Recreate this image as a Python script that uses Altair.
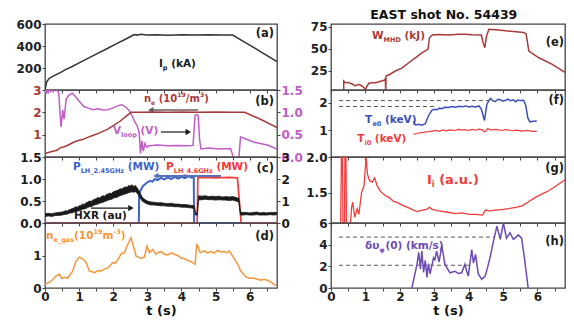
import altair as alt
import pandas as pd

FONT = "DejaVu Sans"
BLACK = "#1a1a1a"
DARKRED = "#a83a3a"
MAGENTA = "#c05cc6"
BLUE = "#3d63c9"
RED = "#f23b3b"
ORANGE = "#f5963a"
PURPLE = "#6c4bb3"
TEBLUE = "#3b4fb8"

# ---------------- data (t in s, value) ----------------
IP = [(0, 0), (0.05, 75), (0.12, 105), (0.2, 120), (0.3, 135), (0.45, 158), (0.6, 185), (0.8, 214),
      (1.0, 247), (1.2, 279), (1.5, 326), (1.8, 373), (2.1, 421), (2.4, 468), (2.55, 493), (2.62, 504),
      (2.7, 499), (2.8, 506), (3.0, 500), (3.3, 503), (3.6, 498), (4.0, 503), (4.4, 500), (4.8, 502),
      (5.2, 499), (5.5, 500), (5.8, 445), (6.1, 390), (6.4, 333), (6.8, 258)]

NE = [(0, 0.15), (0.2, 0.25), (0.35, 0.3), (0.45, 0.42), (0.55, 0.45), (0.7, 0.55), (0.85, 0.67),
      (1.0, 0.75), (1.1, 0.78), (1.25, 0.88), (1.4, 0.96), (1.6, 1.08), (1.84, 1.25), (2.0, 1.4),
      (2.2, 1.6), (2.4, 1.85), (2.52, 2.0), (2.8, 2.0), (3.2, 2.01), (3.6, 2.0), (4.0, 2.01), (4.5, 2.0),
      (5.0, 2.01), (5.5, 2.0), (5.85, 2.0), (6.3, 1.7), (6.8, 1.32)]

VLOOP = [(0.0, 1.6), (0.03, 1.42), (0.06, 1.6), (0.09, 1.42), (0.12, 1.6), (0.16, 1.45), (0.2, 1.6),
         (0.24, 1.45), (0.28, 1.6), (0.34, 1.5), (0.4, 1.45), (0.47, 0.67), (0.52, 1.05), (0.56, 0.85),
         (0.62, 1.3), (0.7, 1.38), (0.8, 1.43), (0.9, 1.35), (0.98, 1.27), (1.06, 1.2), (1.14, 1.13),
         (1.25, 1.1), (1.4, 1.06), (1.55, 1.08), (1.7, 1.05), (1.84, 1.06), (2.0, 1.1), (2.14, 1.15),
         (2.26, 1.17), (2.36, 1.12), (2.46, 1.05), (2.55, 0.93), (2.61, 0.82), (2.7, 0.7), (2.76, 0.55),
         (2.8, 0.08), (2.84, 0.36), (2.88, 0.13), (2.93, 0.3), (2.98, 0.22), (3.05, 0.25), (3.3, 0.27),
         (3.6, 0.25), (3.9, 0.26), (4.2, 0.25), (4.34, 0.26), (4.4, 0.94), (4.44, 0.95), (4.49, 0.93),
         (4.53, 0.4), (4.57, 0.18), (4.8, 0.2), (5.1, 0.18), (5.44, 0.19), (5.49, 0.07), (5.53, -0.05),
         (5.68, -0.05), (5.73, 0.45), (5.83, 0.42), (6.13, 0.33), (6.52, 0.27), (6.8, 0.18)]

# HXR noisy band: (t, lower edge, upper edge)
HXR = [(0.0, 0.15, 0.21), (0.1, 0.16, 0.22), (0.2, 0.15, 0.21), (0.3, 0.17, 0.23), (0.4, 0.17, 0.24),
       (0.5, 0.18, 0.25), (0.55, 0.19, 0.26), (0.6, 0.2, 0.28), (0.65, 0.2, 0.27), (0.7, 0.22, 0.3),
       (0.75, 0.23, 0.31), (0.8, 0.23, 0.33), (0.85, 0.25, 0.34), (0.9, 0.26, 0.37), (0.95, 0.27, 0.36),
       (1.0, 0.28, 0.39), (1.05, 0.29, 0.4), (1.1, 0.31, 0.43), (1.15, 0.32, 0.42), (1.2, 0.33, 0.46),
       (1.25, 0.35, 0.47), (1.3, 0.37, 0.5), (1.35, 0.37, 0.49), (1.4, 0.39, 0.52), (1.45, 0.41, 0.54),
       (1.5, 0.42, 0.55), (1.55, 0.43, 0.58), (1.6, 0.45, 0.57), (1.65, 0.46, 0.6), (1.7, 0.47, 0.62),
       (1.75, 0.49, 0.61), (1.8, 0.5, 0.65), (1.85, 0.52, 0.66), (1.9, 0.53, 0.68), (1.95, 0.54, 0.67),
       (2.0, 0.56, 0.71), (2.05, 0.58, 0.72), (2.1, 0.58, 0.74), (2.15, 0.6, 0.75), (2.2, 0.62, 0.78),
       (2.25, 0.63, 0.77), (2.3, 0.65, 0.8), (2.35, 0.66, 0.82), (2.4, 0.67, 0.81), (2.45, 0.69, 0.85),
       (2.5, 0.7, 0.84), (2.55, 0.71, 0.87), (2.6, 0.7, 0.83), (2.65, 0.71, 0.85), (2.7, 0.68, 0.8),
       (2.75, 0.62, 0.74), (2.8, 0.55, 0.66), (2.85, 0.5, 0.59), (2.9, 0.47, 0.55), (3.0, 0.43, 0.5),
       (3.1, 0.41, 0.48), (3.2, 0.41, 0.47), (3.3, 0.4, 0.46), (3.4, 0.39, 0.46), (3.5, 0.39, 0.45),
       (3.6, 0.38, 0.44), (3.7, 0.38, 0.45), (3.8, 0.37, 0.43), (3.9, 0.37, 0.43), (4.0, 0.36, 0.42),
       (4.1, 0.36, 0.42), (4.2, 0.35, 0.41), (4.3, 0.34, 0.4), (4.38, 0.33, 0.39), (4.41, 0.18, 0.23),
       (4.46, 0.18, 0.23), (4.5, 0.52, 0.62), (4.6, 0.53, 0.61), (4.7, 0.54, 0.62), (4.8, 0.53, 0.6),
       (4.9, 0.53, 0.61), (5.0, 0.52, 0.6), (5.1, 0.53, 0.61), (5.2, 0.52, 0.59), (5.3, 0.52, 0.6),
       (5.4, 0.51, 0.59), (5.5, 0.52, 0.6), (5.6, 0.5, 0.58), (5.68, 0.48, 0.56), (5.73, 0.18, 0.25),
       (5.8, 0.18, 0.24), (5.9, 0.19, 0.24), (6.0, 0.18, 0.23), (6.1, 0.18, 0.24), (6.2, 0.19, 0.25),
       (6.3, 0.18, 0.23), (6.4, 0.18, 0.24), (6.5, 0.18, 0.23), (6.6, 0.19, 0.24), (6.7, 0.18, 0.24),
       (6.8, 0.19, 0.24)]

P245 = [(0, 0), (2.75, 0), (2.76, 1.32), (2.82, 1.55), (2.88, 1.7), (2.95, 1.78), (3.01, 1.86),
        (3.08, 1.92), (3.15, 1.88), (3.22, 2.0), (3.3, 1.95), (3.4, 2.05), (3.5, 1.98), (3.6, 2.07),
        (3.7, 2.0), (3.8, 2.1), (3.9, 2.02), (4.0, 2.1), (4.1, 2.04), (4.2, 2.12), (4.3, 2.06),
        (4.36, 2.12), (4.37, 0), (6.8, 0)]

P46 = [(0, 0), (4.46, 0), (4.48, 2.05), (4.6, 2.07), (5.0, 2.05), (5.4, 2.07), (5.64, 2.05),
       (5.68, 1.3), (5.75, 0), (6.8, 0)]

NEGAS = [(0, 0.11), (0.18, 0.21), (0.32, 0.37), (0.42, 0.43), (0.49, 0.3), (0.58, 0.33), (0.66, 0.3),
         (0.81, 0.52), (0.91, 0.83), (1.01, 0.95), (1.1, 0.9), (1.2, 0.8), (1.3, 0.52), (1.38, 0.5),
         (1.45, 0.47), (1.55, 0.53), (1.64, 0.52), (1.74, 0.58), (1.84, 0.62), (1.92, 0.7), (1.98, 0.78),
         (2.05, 0.76), (2.13, 0.86), (2.23, 1.05), (2.33, 1.09), (2.4, 1.29), (2.47, 1.43), (2.52, 1.55),
         (2.58, 1.33), (2.67, 0.98), (2.74, 0.95), (2.81, 0.91), (2.91, 0.95), (2.99, 1.29), (3.06, 1.09),
         (3.16, 1.19), (3.25, 1.04), (3.33, 1.1), (3.4, 1.12), (3.5, 1.04), (3.6, 1.02), (3.7, 1.08),
         (3.79, 1.04), (3.88, 1.0), (3.98, 0.93), (4.08, 0.9), (4.18, 0.85), (4.3, 0.8), (4.4, 0.73),
         (4.45, 1.36), (4.55, 1.09), (4.67, 1.14), (4.76, 1.08), (4.86, 1.12), (4.96, 1.07), (5.06, 1.16),
         (5.15, 1.1), (5.25, 1.12), (5.33, 1.08), (5.4, 1.14), (5.5, 0.98), (5.65, 0.73), (5.74, 0.52),
         (5.89, 0.34), (6.0, 0.3), (6.13, 0.3), (6.33, 0.24), (6.42, 0.27), (6.52, 0.24), (6.65, 0.16),
         (6.77, 0.07)]

WMHD = [(0.37, 0), (0.37, 13.6), (0.42, 11.7), (0.5, 12), (0.56, 11), (0.63, 10), (0.7, 8), (0.78, 9.5),
        (0.85, 9), (0.93, 7), (1.0, 4.2), (1.05, 8), (1.1, 11), (1.2, 11.5), (1.3, 11.7), (1.42, 13),
        (1.54, 14.4), (1.58, 16), (1.59, 0), (1.6, 19.3), (1.7, 21), (1.87, 25), (2.07, 28.5),
        (2.26, 34.4), (2.45, 40), (2.65, 45.8), (2.82, 49.6), (2.86, 62.8), (2.94, 65.9), (3.1, 66.5),
        (3.43, 65.9), (3.7, 66.8), (3.91, 66.7), (4.1, 66.2), (4.37, 65.9), (4.42, 57.2), (4.47, 51.5),
        (4.52, 64.8), (4.59, 72.4), (4.8, 71.8), (5.07, 70.6), (5.3, 70), (5.6, 68.8), (5.67, 67),
        (5.75, 47.7), (6.04, 40), (6.43, 32.6), (6.8, 23.5)]

TE0 = [(2.4, 1.34), (2.45, 1.2), (2.55, 1.22), (2.64, 1.19), (2.74, 1.24), (2.83, 1.52), (2.93, 1.72),
       (3.0, 1.76), (3.08, 1.74), (3.15, 1.8), (3.22, 1.78), (3.3, 1.83), (3.42, 1.82), (3.52, 1.86),
       (3.62, 1.83), (3.72, 1.87), (3.81, 1.85), (3.92, 1.88), (4.0, 1.84), (4.1, 1.87), (4.2, 1.84),
       (4.3, 1.88), (4.37, 1.76), (4.46, 1.36), (4.53, 1.94), (4.63, 2.15), (4.7, 2.07), (4.77, 2.03),
       (4.85, 2.12), (4.92, 2.1), (5.0, 2.05), (5.07, 2.08), (5.14, 2.12), (5.21, 2.07), (5.3, 2.1),
       (5.36, 2.03), (5.43, 2.09), (5.5, 2.07), (5.6, 2.08), (5.66, 1.9), (5.72, 1.45), (5.78, 1.31),
       (5.88, 1.33), (5.98, 1.34)]

TI0 = [(2.4, 0.86), (2.5, 0.9), (2.64, 0.92), (2.75, 0.95), (2.85, 0.96), (2.93, 0.98), (3.05, 1.0),
       (3.15, 0.97), (3.25, 1.02), (3.35, 0.99), (3.45, 1.02), (3.6, 1.0), (3.7, 1.04), (3.8, 1.01),
       (3.9, 1.03), (4.0, 1.0), (4.1, 1.04), (4.2, 1.01), (4.3, 1.05), (4.4, 1.02), (4.47, 0.95),
       (4.55, 1.06), (4.65, 1.02), (4.8, 1.04), (4.95, 1.0), (5.1, 1.03), (5.25, 0.99), (5.4, 1.01),
       (5.55, 0.98), (5.7, 1.0), (5.85, 0.97), (5.98, 0.98)]

II = [(0.28, 1.0), (0.31, 2.3), (0.33, 2.3), (0.35, 1.0), (0.39, 1.0), (0.41, 2.3), (0.43, 2.3),
      (0.45, 1.0), (0.52, 1.0), (0.56, 1.05), (0.6, 1.3), (0.63, 1.37), (0.69, 1.16), (0.76, 1.28),
      (0.81, 1.2), (0.89, 1.51), (0.96, 1.6), (1.02, 1.99), (1.06, 1.76), (1.12, 1.67), (1.2, 1.65),
      (1.27, 1.71), (1.34, 1.6), (1.44, 1.52), (1.58, 1.46), (1.68, 1.44), (1.82, 1.38), (1.95, 1.36),
      (2.07, 1.33), (2.26, 1.29), (2.4, 1.26), (2.5, 1.24), (2.65, 1.26), (2.78, 1.27), (2.86, 1.3),
      (2.94, 1.27), (3.13, 1.25), (3.4, 1.23), (3.62, 1.21), (3.8, 1.22), (4.01, 1.2), (4.2, 1.2),
      (4.4, 1.19), (4.49, 1.26), (4.6, 1.25), (4.78, 1.26), (5.0, 1.27), (5.17, 1.28), (5.4, 1.3),
      (5.56, 1.32), (5.75, 1.38), (5.95, 1.44), (6.15, 1.49), (6.33, 1.53), (6.55, 1.6), (6.82, 1.69)]

DV = [(2.35, 0), (2.5, 2.2), (2.55, 3.3), (2.6, 1.75), (2.64, 3.4), (2.69, 1.45), (2.74, 2.55),
      (2.79, 0.98), (2.83, 2.25), (2.88, 1.3), (2.98, 2.8), (3.02, 2.6), (3.07, 3.4), (3.14, 2.4),
      (3.22, 3.9), (3.31, 2.2), (3.38, 1.8), (3.46, 1.4), (3.6, 1.55), (3.7, 1.35), (3.8, 1.4),
      (3.89, 2.2), (3.94, 1.6), (3.99, 1.1), (4.09, 3.55), (4.14, 2.3), (4.2, 3.1), (4.28, 1.3),
      (4.38, 0.8), (4.48, 1.1), (4.55, 1.9), (4.62, 2.8), (4.72, 4.3), (4.82, 5.7), (4.92, 4.5),
      (5.01, 6.0), (5.1, 4.6), (5.2, 5.1), (5.3, 4.5), (5.38, 4.7), (5.44, 4.9), (5.54, 4.6),
      (5.62, 2.8), (5.73, 0)]

F_DASH = [(0.23, 4.6, 2.07), (0.23, 3.0, 1.86)]
H_DASH = [(0.23, 4.75, 4.7), (0.23, 4.1, 2.1)]

# ---------------- helpers ----------------
XS = alt.Scale(domain=[0, 6.8], nice=False, zero=False)
XTICKS = [i * 0.5 for i in range(14)]

CW = {' ': 0.348, '(': 0.457, ')': 0.457, '/': 0.365, '.': 0.38, '_': 0.5, '-': 0.415,
      'a': 0.675, 'b': 0.716, 'c': 0.593, 'd': 0.716, 'e': 0.678, 'g': 0.716, 'h': 0.712, 'i': 0.343,
      'k': 0.665, 'l': 0.343, 'm': 1.042, 'n': 0.712, 'o': 0.687, 'p': 0.716, 'r': 0.493, 's': 0.595,
      't': 0.478, 'u': 0.712, 'z': 0.582, 'A': 0.774, 'D': 0.83, 'G': 0.821, 'H': 0.837, 'I': 0.372,
      'L': 0.637, 'M': 0.995, 'P': 0.733, 'V': 0.774, 'W': 1.103, 'X': 0.774, 'R': 0.77,
      'δ': 0.687, 'υ': 0.69, 'φ': 0.9}


def tw(s, size):
    return sum(CW.get(ch, 0.696) for ch in s) * size


def frame(pairs):
    return pd.DataFrame({"t": [p[0] for p in pairs], "v": [p[1] for p in pairs],
                         "i": list(range(len(pairs)))})


def x_axis(bottom):
    if bottom:
        return alt.Axis(values=XTICKS,
                        labelExpr="datum.value % 1 == 0 ? format(datum.value, 'd') : ''",
                        title="t (s)", tickSize=3, labelPadding=0, titlePadding=2,
                        labelFlush=False, grid=False, domain=False, labelColor="#222")
    return alt.Axis(values=XTICKS, labels=False, title=None, tickSize=3, grid=False, domain=False)


def y_axis(values, color="#222", orient="left", fmt=""):
    kw = dict(values=values, orient=orient, labelColor=color, title=None, tickSize=3,
              labelPadding=1, grid=False, domain=False)
    if fmt:
        kw["format"] = fmt
    return alt.Axis(**kw)


def ex(xa, field="t"):
    return alt.X(f"{field}:Q", scale=XS, axis=xa)


def ey(dom, ya, field="v"):
    return alt.Y(f"{field}:Q", scale=alt.Scale(domain=dom, nice=False, zero=False), axis=ya)


def line(pairs, color, xa, dom, ya, width=1.5):
    return alt.Chart(frame(pairs)).mark_line(color=color, strokeWidth=width, clip=True).encode(
        x=ex(xa), y=ey(dom, ya), order="i:Q")


def band(triples, color, xa, dom, ya):
    df = pd.DataFrame({"t": [r[0] for r in triples], "lo": [r[1] for r in triples],
                       "hi": [r[2] for r in triples]})
    return alt.Chart(df).mark_area(color=color, stroke=color, strokeWidth=0.8, clip=True).encode(
        x=ex(xa), y=ey(dom, ya, "lo"), y2="hi:Q")


def rich(t, v, parts, color, size, xa, dom, ya, align="left"):
    df = pd.DataFrame({"t": [t], "v": [v]})
    layers = []
    off = 0.0
    for txt, kind in parts:
        fs = size if kind == "n" else round(size * 0.62, 1)
        dy = 0 if kind == "n" else (size * 0.38 if kind == "sub" else -size * 0.4)
        body = txt.lstrip(" ")
        off += tw(txt[:len(txt) - len(body)], fs)
        layers.append(alt.Chart(df).mark_text(
            text=body, align=align, baseline="middle", dx=off, dy=dy, fontSize=fs, font=FONT,
            fontWeight="bold", color=color).encode(x=ex(xa), y=ey(dom, ya)))
        off += tw(body, fs)
    return layers


def dashes(rows, xa, dom, ya):
    df = pd.DataFrame({"t0": [r[0] for r in rows], "t1": [r[1] for r in rows], "v": [r[2] for r in rows]})
    return alt.Chart(df).mark_rule(strokeDash=[4, 3], color="#555", strokeWidth=1).encode(
        x=ex(xa, "t0"), x2="t1:Q", y=ey(dom, ya))


def arrow(t0, t1, v, head, color, xa, dom, ya, width=1.3):
    df = pd.DataFrame({"t0": [t0], "t1": [t1], "v": [v]})
    r = alt.Chart(df).mark_rule(color=color, strokeWidth=width).encode(
        x=ex(xa, "t0"), x2="t1:Q", y=ey(dom, ya))
    hd = pd.DataFrame({"t": [t0 if head == "left" else t1], "v": [v]})
    p = alt.Chart(hd).mark_point(shape="triangle-left" if head == "left" else "triangle-right",
                                 filled=True, color=color, size=40, opacity=1).encode(
        x=ex(xa), y=ey(dom, ya))
    return [r, p]


LW, RW = 232, 234
xm, xb = x_axis(False), x_axis(True)

# ---------------- left column ----------------
dA = [0, 600]
yA = y_axis([200, 400, 600])
panel_a = alt.layer(
    line(IP, "#333", xm, dA, yA),
    *rich(3.34, 236, [("I", "n"), ("p", "sub"), (" (kA)", "n")], BLACK, 10.5, xm, dA, yA),
    *rich(6.71, 509, [("(a)", "n")], BLACK, 11.5, xm, dA, yA, align="right"),
).properties(width=LW, height=66)

dBl, dBr = [0, 3], [0, 1.5]
yBl = y_axis([1, 2, 3], DARKRED)
yBr = y_axis([0, 0.5, 1.0, 1.5], MAGENTA, "right", ".1f")
b_left = alt.layer(
    line(NE, DARKRED, xm, dBl, yBl),
    *rich(2.9, 2.6, [("n", "n"), ("e", "sub"), (" (10", "n"), ("19", "sup"), ("/m", "n"), ("3", "sup"), (")", "n")],
          DARKRED, 10, xm, dBl, yBl),
    *arrow(3.1, 4.49, 2.1, "left", "#6b5a5a", xm, dBl, yBl, 1.5),
    *rich(1.99, 1.16, [("V", "n"), ("loop", "sub"), (" (V)", "n")], MAGENTA, 10.5, xm, dBl, yBl),
    *arrow(3.4, 4.2, 1.12, "right", BLACK, xm, dBl, yBl, 1.2),
    *rich(6.71, 2.46, [("(b)", "n")], BLACK, 11.5, xm, dBl, yBl, align="right"),
)
b_right = alt.layer(line(VLOOP, MAGENTA, xm, dBr, yBr))
panel_b = alt.layer(b_right, b_left).resolve_scale(y="independent").properties(width=LW, height=67)

dCl, dCr = [0, 1.5], [0, 3]
yCl = y_axis([0, 0.5, 1.0, 1.5], BLACK, "left", ".1f")
yCr = y_axis([0, 1, 2, 3], BLACK, "right")
c_right = alt.layer(
    line(P245, BLUE, xm, dCr, yCr, 2),
    line(P46, RED, xm, dCr, yCr, 1.7),
)
c_left = alt.layer(
    band(HXR, BLACK, xm, dCl, yCl),
    *rich(0.82, 1.27, [("P", "n"), ("LH_2.45GHz", "sub"), (" (MW)", "n")], BLUE, 10.5, xm, dCl, yCl),
    *rich(3.55, 1.27, [("P", "n"), ("LH_4.6GHz", "sub"), (" (MW)", "n")], RED, 10.5, xm, dCl, yCl),
    *arrow(3.25, 5.16, 1.07, "left", "#5a72b8", xm, dCl, yCl, 2),
    *rich(0.85, 0.16, [("HXR (au)", "n")], BLACK, 10.5, xm, dCl, yCl),
    *arrow(1.35, 2.52, 0.34, "right", BLACK, xm, dCl, yCl, 1.2),
    *rich(6.71, 1.23, [("(c)", "n")], BLACK, 11.5, xm, dCl, yCl, align="right"),
)
panel_c = alt.layer(c_right, c_left).resolve_scale(y="independent").properties(width=LW, height=66)

dD = [0, 2]
yD = y_axis([0, 1])
panel_d = alt.layer(
    line(NEGAS, ORANGE, xb, dD, yD),
    *rich(0.03, 1.6, [("n", "n"), ("e_gas", "sub"), ("(10", "n"), ("19", "sup"), ("m", "n"), ("-3", "sup"), (")", "n")],
          ORANGE, 10.5, xb, dD, yD),
    *rich(6.71, 1.57, [("(d)", "n")], BLACK, 11.5, xb, dD, yD, align="right"),
).properties(width=LW, height=65)

left = alt.vconcat(panel_a, panel_b, panel_c, panel_d, spacing=0, bounds="flush")

# ---------------- right column ----------------
dE = [3.4, 78.4]
yE = y_axis([25, 50, 75])
panel_e = alt.layer(
    line(WMHD, DARKRED, xm, dE, yE),
    *rich(1.19, 64.7, [("W", "n"), ("MHD", "sub"), (" (kJ)", "n")], DARKRED, 10.5, xm, dE, yE),
    *rich(6.77, 56.8, [("(e)", "n")], BLACK, 11.5, xm, dE, yE, align="right"),
).properties(width=RW, height=66)

dF = [0.05, 2.45]
yF = y_axis([1, 2])
panel_f = alt.layer(
    dashes(F_DASH, xm, dF, yF),
    line(TE0, TEBLUE, xm, dF, yF),
    line(TI0, RED, xm, dF, yF, 1.2),
    *rich(0.99, 1.37, [("T", "n"), ("e0", "sub"), (" (keV)", "n")], TEBLUE, 10.5, xm, dF, yF),
    *rich(0.76, 0.69, [("T", "n"), ("i0", "sub"), (" (keV)", "n")], RED, 10.5, xm, dF, yF),
    *rich(6.77, 2.05, [("(f)", "n")], BLACK, 11.5, xm, dF, yF, align="right"),
).properties(width=RW, height=67)

dG = [1.08, 2.0]
yG = y_axis([1.5, 2.0], BLACK, "left", ".1f")
panel_g = alt.layer(
    line(II, RED, xm, dG, yG, 1.3),
    *rich(2.79, 1.68, [("I", "n"), ("i", "sub"), (" (a.u.)", "n")], RED, 13, xm, dG, yG),
    *rich(6.77, 1.83, [("(g)", "n")], BLACK, 11.5, xm, dG, yG, align="right"),
).properties(width=RW, height=66)

dH = [0, 6]
yH = y_axis([0, 2, 4, 6])
panel_h = alt.layer(
    dashes(H_DASH, xb, dH, yH),
    line(DV, PURPLE, xb, dH, yH),
    *rich(0.99, 3.88, [("δυ", "n"), ("φ", "sub"), ("(0) (km/s)", "n")], PURPLE, 10.5, xb, dH, yH),
    *rich(6.77, 4.25, [("(h)", "n")], BLACK, 11.5, xb, dH, yH, align="right"),
).properties(width=RW, height=65)

right = alt.vconcat(panel_e, panel_f, panel_g, panel_h, spacing=0, bounds="flush")

chart = alt.hconcat(left, right, spacing=2).properties(
    title=alt.TitleParams("EAST shot No. 54439", anchor="start", dx=355, fontSize=12.5, font=FONT,
                          fontWeight="bold", offset=-4, color="#111"),
    padding={"left": 7, "top": 0, "right": 0, "bottom": 0},
).configure_view(stroke="#444", strokeWidth=1.3).configure_axis(
    labelFont=FONT, labelFontWeight="bold", labelFontSize=12, titleFont=FONT, titleFontWeight="bold",
    titleFontSize=13, titleColor="#111", tickColor="#444")

chart.save("out.html", embed_options={"renderer": "svg", "actions": False})
